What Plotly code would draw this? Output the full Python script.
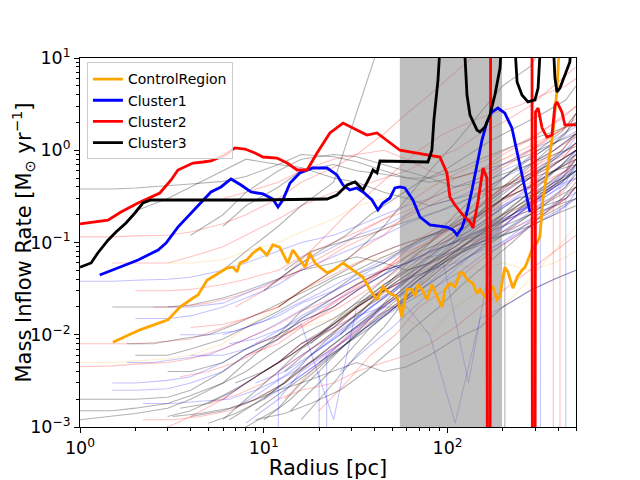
import numpy as np
import plotly.graph_objects as go

N = None

# bold profiles
control_r = [1.51, 2.12, 3.01, 3.50, 4.12, 4.39, 4.91, 5.78, 6.31, 6.80, 7.15, 7.42, 8.10, 8.74, 9.53,
             10.4, 11.2, 12.2, 12.7, 13.5, 14.4, 15.7, 16.8, 17.8, 19.0, 20.2, 22.1, 23.8, 27.0, 29.4,
             32.1, 34.7, 37.8, 41.3, 44.5, 48.6, 53.0, 56.5, 57.2, 60.1, 64.0, 66.5, 69.0, 72.6, 77.3,
             82.3, 87.6, 93.3, 96.8, 103, 109.7, 116.8, 121, 129.1, 137.5, 144.5, 150, 159.7, 170, 176.6,
             185.7, 193, 197.7, 205, 213, 227, 239, 254, 264, 274, 288, 306.6, 318, 330, 352,
             374.5, 394, 414]
control_rate = [0.0083, 0.0113, 0.0145, 0.020, 0.025, 0.027, 0.039, 0.047, 0.053, 0.054, 0.048, 0.060, 0.065, 0.077, 0.087,
                0.073, 0.094, 0.089, 0.077, 0.060, 0.083, 0.065, 0.054, 0.077, 0.060, 0.054, 0.047, 0.050, 0.060, 0.053,
                0.047, 0.042, 0.031, 0.024, 0.033, 0.028, 0.026, 0.0156, 0.0185, 0.031, 0.031, 0.026, 0.035, 0.031, 0.024,
                0.035, 0.026, 0.020, 0.031, 0.036, 0.033, 0.047, 0.047, 0.039, 0.036, 0.028, 0.031, 0.026, 0.031, 0.033,
                0.024, 0.026, 0.036, 0.054, 0.048, 0.032, 0.042, 0.050, 0.054, 0.065, 0.083, 0.099, 0.115, 0.289, 0.658,
                1.54, 4.5, 30]

cluster1_r = [1.28, 1.61, 2.07, 2.66, 2.94, 3.41, 4.02, 4.67, 5.16, 5.85, 6.63, 7.52, 8.52, 9.9, 11.2,
              11.95, 12.7, 13.9, 15.7, 18.5, 22.1, 25.0, 27.0, 29.4, 32.1, 34.7, 38.8, 41.8, 44.5, 48.6,
              51.7, 55.1, 58.6, 64.8, 70.8, 80.2, 99.2, 107, 112.5, 119.8, 127.6, 135.8, 144.5, 153.9, 163.8,
              174.4, 188, 205, 224, 241.5, 264, 281]
cluster1_rate = [0.0444, 0.053, 0.0646, 0.083, 0.0988, 0.147, 0.209, 0.289, 0.353, 0.40, 0.488, 0.42, 0.353, 0.336, 0.296,
                 0.243, 0.289, 0.442, 0.567, 0.642, 0.642, 0.54, 0.42, 0.371, 0.39, 0.353, 0.289, 0.225, 0.268, 0.304,
                 0.39, 0.40, 0.39, 0.289, 0.189, 0.155, 0.147, 0.137, 0.121, 0.144, 0.214, 0.371, 0.692, 1.29, 2.02,
                 2.60, 2.87, 2.53, 1.74, 0.888, 0.39, 0.214]

cluster2_r = [1.0, 1.42, 1.67, 2.07, 2.72, 3.13, 3.41, 4.12, 4.67, 5.16, 6.15, 6.97, 7.9, 8.96, 9.9,
              11.8, 13.4, 15.2, 17.2, 19.5, 22.9, 27.0, 32.1, 36.4, 41.3, 48.6, 55.1, 68.2, 90.9, 99.2,
              103, 109.7, 121, 132.5, 137.5, 146.3, 156, 163.8, 164.9, 170, 172, 287.7, 289.7, 299, 301,
              311, 327, 347, 370, 384, 394, 419, 435, 500]
cluster2_rate = [0.159, 0.175, 0.214, 0.268, 0.344, 0.476, 0.611, 0.727, 0.746, 0.765, 0.888, 1.06, 1.03, 0.933, 0.845,
                 0.824, 0.727, 0.611, 0.611, 0.933, 1.54, 1.97, 1.66, 1.46, 1.54, 1.2, 1.0, 0.933, 0.845, 0.567,
                 0.311, 0.255, 0.199, 0.167, 0.144, 0.275, 0.642, 0.5, 1e-5, 1e-5, 1e3, 1e3, 1e-5, 1e-5, 2.6,
                 2.87, 1.74, 1.39, 1.46, 3.09, 3.34, 2.6, 1.88, 1.88]

cluster3_r = [1.0, 1.15, 1.25, 1.42, 1.57, 1.78, 1.99, 2.2, 2.43, 9.3, 22.1, 25.0, 28.4, 31.4, 34.7,
              36.4, 37.8, 39.3, 41.3, 42.9, 78.2, 82.2, 84.3, 88.7, 93.3, 121, 127.6, 132.5, 144.5, 150,
              159.7, 170, 181, 193, 200, 227, 239, 254, 274, 299, 311, 327, 370, 384, 394,
              409, 435, 463, 481]
cluster3_rate = [0.054, 0.060, 0.077, 0.106, 0.130, 0.163, 0.209, 0.268, 0.289, 0.289, 0.296, 0.327, 0.42, 0.453, 0.371,
                 0.442, 0.513, 0.611, 0.567, 0.765, 0.746, 1.0, 2.13, 5.77, 30, 30, 3.97, 2.41, 1.66, 1.58,
                 1.79, 2.41, 3.97, 7.79, 30, 30, 5.49, 3.97, 3.34, 3.51, 4.73, 30, 30, 6.07, 4.28,
                 4.73, 6.54, 9.05, 30]

# individual (faint) profiles, on three radius grids
radius_grid = [1, 1.5, 2, 3, 4, 6, 8, 12, 16, 24, 32, 45, 60, 80, 110, 150, 200, 280, 380, 500]
radius_grid_b = [1.2, 1.8, 2.5, 3.5, 5, 7, 10, 14, 20, 28, 38, 52, 70, 95, 130, 175, 240, 330, 440, 500]
radius_grid_c = [1.3, 2.2, 3.2, 4.5, 6.5, 9, 13, 18, 26, 36, 50, 66, 90, 120, 165, 225, 310, 420, 500]

faint_black = [
    [0.38, 0.38, 0.39, 0.41, 0.43, 0.46, 0.52, 0.7, 0.9, 0.85, 0.75, 0.6, 0.5, 0.45, 0.5, 0.6, 0.7, 0.9, 1.2, 1.5],
    [N, N, N, N, N, 0.05, 0.08, 0.15, 0.25, 0.45, 2.5, 20, N, N, N, N, N, N, N, N],
    [N, N, 0.22, 0.3, 0.4, 0.6, 0.8, 0.7, 0.65, 0.5, 0.45, 0.35, 0.3, 0.25, 0.3, 0.35, 0.4, 0.5, 0.6, 0.7],
    [0.0012, 0.0013, 0.0014, 0.0016, 0.002, 0.003, 0.004, 0.007, 0.01, 0.015, 0.022, 0.03, 0.04, 0.05, 0.07, 0.1, 0.13, 0.2, 0.3, 0.4],
    [N, N, N, 0.0013, 0.0015, 0.0022, 0.003, 0.005, 0.008, 0.013, 0.02, 0.035, 0.05, 0.06, 0.09, 0.15, 0.2, 0.35, 0.6, 0.8],
    [0.002, 0.002, 0.002, 0.0021, 0.0025, 0.004, 0.006, 0.009, 0.015, 0.025, 0.035, 0.05, 0.06, 0.08, 0.1, 0.12, 0.15, 0.2, 0.25, 0.3],
    [N, N, N, N, N, 0.0012, 0.002, 0.004, 0.007, 0.012, 0.02, 0.03, 0.045, 0.07, 0.12, 0.2, 0.3, 0.5, 0.8, 1.2],
    [N, N, N, N, 0.0013, 0.0015, 0.0018, 0.0025, 0.003, 0.004, 0.005, 0.004, 0.0045, 0.006, 0.009, 0.012, 0.02, 0.03, 0.04, 0.05],
    [0.0015, 0.0015, 0.0016, 0.0018, 0.0022, 0.003, 0.005, 0.01, 0.018, 0.03, 0.045, 0.06, 0.09, 0.12, 0.16, 0.25, 0.4, 0.7, 1.0, 1.5],
    [N, N, 0.006, 0.006, 0.007, 0.009, 0.012, 0.018, 0.025, 0.04, 0.05, 0.07, 0.09, 0.12, 0.15, 0.2, 0.3, 0.4, 0.6, 0.9],
    [N, N, N, N, 0.12, 0.2, 0.35, 0.6, 0.8, 0.9, 0.85, 0.7, 0.6, 0.5, 0.4, 0.45, 0.55, 0.7, 0.9, 1.1],
    [N, N, N, N, N, N, N, 0.02, 0.03, 0.05, 0.08, 0.15, 0.3, 0.6, 1.2, 2.5, 5, 8, 20, N],
    [N, 0.02, 0.02, 0.02, 0.021, 0.025, 0.03, 0.04, 0.05, 0.06, 0.07, 0.06, 0.05, 0.06, 0.08, 0.1, 0.12, 0.15, 0.2, 0.25],
    [N, N, N, N, N, N, 0.001, 0.0016, 0.003, 0.006, 0.01, 0.018, 0.03, 0.05, 0.08, 0.13, 0.2, 0.3, 0.45, 0.6],
    [N, N, N, N, N, N, N, N, 0.0012, 0.003, 0.006, 0.012, 0.025, 0.05, 0.1, 0.18, 0.3, 0.5, 0.7, 1.0],
    [N, N, N, 0.004, 0.004, 0.005, 0.007, 0.01, 0.014, 0.02, 0.03, 0.045, 0.07, 0.1, 0.2, 0.35, 0.5, 0.8, 1.2, 2.0],
    [N, N, N, N, N, 0.15, 0.25, 0.4, 0.6, 0.7, 0.6, 0.55, 0.5, 0.5, 0.6, 0.8, 1.0, 1.3, 1.6, 2.0],
]
faint_black_b = [
    [N, N, N, N, 0.0011, 0.0014, 0.002, 0.0035, 0.006, 0.01, 0.016, 0.025, 0.04, 0.06, 0.1, 0.15, 0.25, 0.4, 0.6, 0.8],
    [N, N, N, 0.0016, 0.0018, 0.0025, 0.004, 0.006, 0.01, 0.018, 0.03, 0.05, 0.08, 0.1, 0.13, 0.2, 0.3, 0.35, 0.5, 0.7],
    [N, N, N, N, N, N, 0.0012, 0.002, 0.004, 0.008, 0.015, 0.03, 0.05, 0.08, 0.15, 0.3, 0.5, 0.9, 1.5, 2.5],
    [N, N, N, N, N, 0.003, 0.004, 0.006, 0.01, 0.016, 0.025, 0.04, 0.06, 0.09, 0.12, 0.15, 0.2, 0.25, 0.3, 0.4],
    [N, N, N, N, N, N, N, 0.0015, 0.003, 0.006, 0.012, 0.02, 0.035, 0.06, 0.09, 0.14, 0.22, 0.35, 0.5, 0.6],
    [N, 0.008, 0.008, 0.009, 0.01, 0.013, 0.018, 0.025, 0.035, 0.05, 0.07, 0.09, 0.11, 0.13, 0.18, 0.25, 0.35, 0.5, 0.7, 0.9],
    [N, N, N, N, N, N, N, N, 0.005, 0.008, 0.012, 0.02, 0.03, 0.045, 0.07, 0.1, 0.16, 0.25, 0.4, 0.55],
    [N, N, N, N, N, N, 0.03, 0.05, 0.08, 0.12, 0.2, 0.3, 0.45, 0.6, 0.9, 1.3, 1.8, 2.5, 3.5, 5],
]
faint_black_c = [
    [N, N, N, N, N, 0.0015, 0.0025, 0.004, 0.007, 0.012, 0.02, 0.03, 0.05, 0.08, 0.12, 0.2, 0.35, 0.5, 0.7],
    [N, N, N, N, 0.0012, 0.0018, 0.003, 0.005, 0.009, 0.015, 0.025, 0.04, 0.06, 0.09, 0.14, 0.22, 0.3, 0.45, 0.6],
    [N, N, N, N, N, N, 0.004, 0.007, 0.012, 0.02, 0.035, 0.05, 0.07, 0.1, 0.15, 0.25, 0.4, 0.7, 1.0],
    [N, N, N, N, N, N, N, 0.008, 0.015, 0.025, 0.04, 0.06, 0.1, 0.15, 0.25, 0.4, 0.6, 1.0, 1.5],
    [N, N, 0.0013, 0.0014, 0.0016, 0.002, 0.003, 0.006, 0.012, 0.02, 0.03, 0.045, 0.06, 0.08, 0.1, 0.13, 0.18, 0.25, 0.3],
    [N, N, N, N, N, N, 0.05, 0.08, 0.1, 0.12, 0.15, 0.18, 0.22, 0.28, 0.35, 0.45, 0.6, 0.8, 1.0],
    [N, N, N, N, N, N, N, N, 0.01, 0.02, 0.04, 0.07, 0.12, 0.2, 0.35, 0.6, 1.0, 1.6, 2.5],
    [N, N, N, N, N, 0.0012, 0.0014, 0.0018, 0.0025, 0.004, 0.007, 0.012, 0.02, 0.035, 0.06, 0.1, 0.18, 0.3, 0.45],
]

faint_red = [
    [0.115, 0.115, 0.118, 0.12, 0.13, 0.16, 0.2, 0.3, 0.45, 0.65, 0.9, 1.5, 2.5, 4, 7, 12, N, N, N, N],
    [0.008, 0.008, 0.008, 0.0085, 0.009, 0.012, 0.015, 0.02, 0.03, 0.045, 0.06, 0.08, 0.1, 0.12, 0.15, 0.2, 0.3, 0.5, 0.7, 1.0],
    [0.0045, 0.0046, 0.0048, 0.005, 0.0055, 0.007, 0.009, 0.013, 0.018, 0.025, 0.035, 0.05, 0.07, 0.1, 0.15, 0.2, 0.3, 0.4, 0.6, 0.8],
    [N, N, 0.03, 0.03, 0.031, 0.035, 0.04, 0.05, 0.07, 0.1, 0.13, 0.18, 0.22, 0.3, 0.4, 0.5, 0.7, 1.0, 1.5, 2.0],
    [N, N, N, N, N, N, N, 0.002, 0.0025, 0.003, 0.004, 0.005, 0.006, 0.008, 0.012, 0.02, 0.03, 0.05, 0.08, 0.12],
    [N, 0.06, 0.06, 0.06, 0.07, 0.09, 0.12, 0.18, 0.25, 0.35, 0.4, 0.5, 0.6, 0.8, 1.0, 1.5, 2, 3, 5, 8],
    [N, N, N, 0.001, 0.0013, 0.002, 0.003, 0.005, 0.008, 0.012, 0.02, 0.03, 0.04, 0.06, 0.09, 0.14, 0.2, 0.3, 0.5, 0.7],
    [N, N, N, N, 0.012, 0.013, 0.015, 0.02, 0.03, 0.05, 0.08, 0.12, 0.2, 0.3, 0.5, 0.6, 0.9, 1.3, 2, 3],
    [N, N, N, N, N, N, 0.006, 0.008, 0.012, 0.02, 0.03, 0.05, 0.08, 0.1, 0.15, 0.25, 0.4, 0.6, 1.0, 1.4],
    [N, N, N, N, N, 0.3, 0.35, 0.45, 0.6, 0.8, 0.9, 1.0, 0.8, 0.6, 0.5, 0.6, 0.8, 1.1, 1.5, 2.2],
]
faint_red_b = [
    [N, N, N, N, 0.0018, 0.0022, 0.003, 0.005, 0.008, 0.014, 0.022, 0.035, 0.05, 0.07, 0.1, 0.12, 0.15, 0.2, 0.3, 0.4],
    [N, N, N, N, N, N, 0.004, 0.006, 0.01, 0.016, 0.025, 0.04, 0.06, 0.1, 0.15, 0.22, 0.35, 0.45, 0.6, 0.9],
    [N, N, 0.02, 0.02, 0.022, 0.026, 0.033, 0.045, 0.06, 0.09, 0.12, 0.16, 0.22, 0.3, 0.4, 0.55, 0.8, 1.2, 1.8, 2.5],
    [N, N, N, N, N, N, N, N, 0.0015, 0.003, 0.006, 0.01, 0.02, 0.03, 0.05, 0.08, 0.12, 0.2, 0.3, 0.4],
    [N, N, N, N, N, 0.02, 0.03, 0.05, 0.1, 0.2, 0.35, 0.6, 1.0, 1.5, 2, 2.5, 3, 4, 5, 6],
    [N, N, N, 0.0035, 0.004, 0.005, 0.007, 0.011, 0.017, 0.027, 0.04, 0.06, 0.09, 0.13, 0.2, 0.3, 0.45, 0.7, 0.9, 1.2],
]
faint_red_c = [
    [N, N, N, N, N, N, 0.002, 0.004, 0.008, 0.014, 0.025, 0.04, 0.06, 0.09, 0.14, 0.2, 0.3, 0.5, 0.8],
    [N, N, N, N, N, 0.008, 0.01, 0.014, 0.02, 0.03, 0.045, 0.07, 0.1, 0.15, 0.22, 0.35, 0.5, 0.8, 1.2],
    [N, N, N, N, N, N, N, 0.015, 0.025, 0.04, 0.06, 0.1, 0.15, 0.2, 0.3, 0.45, 0.7, 1.0, 1.6],
    [N, 0.0012, 0.0012, 0.0013, 0.0015, 0.002, 0.003, 0.005, 0.008, 0.013, 0.02, 0.03, 0.05, 0.08, 0.12, 0.18, 0.25, 0.35, 0.5],
    [N, N, N, N, N, N, 0.04, 0.06, 0.09, 0.14, 0.2, 0.3, 0.45, 0.6, 0.8, 1.1, 1.5, 2.2, 3],
]

faint_blue = [
    [0.038, 0.038, 0.039, 0.04, 0.042, 0.05, 0.06, 0.08, 0.1, 0.12, 0.15, 0.2, 0.25, 0.3, 0.4, 0.5, 0.7, 1.0, 1.3, 1.8],
    [N, 0.003, 0.003, 0.0032, 0.0035, 0.005, 0.007, 0.011, 0.016, 0.025, 0.035, 0.05, 0.06, 0.08, 0.1, 0.13, 0.18, 0.25, 0.4, 0.5],
    [N, N, 0.015, 0.015, 0.016, 0.02, 0.025, 0.035, 0.05, 0.07, 0.09, 0.12, 0.16, 0.2, 0.25, 0.35, 0.5, 0.7, 1.0, 1.5],
    [N, N, N, N, N, 0.002, 0.003, 0.005, 0.008, 0.012, 0.016, 0.02, 0.02, 0.01, 0.0011, 0.015, 0.02, 0.03, 0.04, 0.05],
    [N, N, N, N, 0.006, 0.006, 0.007, 0.01, 0.014, 0.02, 0.03, 0.045, 0.06, 0.08, 0.12, 0.2, 0.3, 0.5, 0.8, 1.2],
    [N, N, N, N, N, N, 0.0011, 0.002, 0.004, 0.007, 0.012, 0.02, 0.03, 0.05, 0.07, 0.1, 0.15, 0.25, 0.4, 0.6],
    [N, 0.0025, 0.0025, 0.0026, 0.003, 0.004, 0.006, 0.009, 0.013, 0.0012, 0.02, 0.03, 0.04, 0.05, 0.06, 0.08, 0.1, 0.15, 0.2, 0.3],
    [N, N, N, 0.02, 0.02, 0.022, 0.028, 0.04, 0.06, 0.09, 0.12, 0.15, 0.2, 0.25, 0.3, 0.4, 0.6, 0.8, 1.2, 1.6],
    [N, N, N, N, N, 0.01, 0.012, 0.016, 0.022, 0.03, 0.04, 0.05, 0.06, 0.07, 0.08, 0.1, 0.12, 0.18, 0.25, 0.35],
    [N, N, N, N, N, N, N, 0.004, 0.006, 0.01, 0.015, 0.025, 0.04, 0.06, 0.1, 0.15, 0.25, 0.4, 0.7, 1.0],
]
faint_blue_b = [
    [N, N, N, N, N, 0.0016, 0.0025, 0.004, 0.007, 0.012, 0.02, 0.03, 0.05, 0.07, 0.1, 0.15, 0.2, 0.3, 0.45, 0.7],
    [N, N, N, 0.01, 0.01, 0.011, 0.014, 0.02, 0.028, 0.04, 0.055, 0.075, 0.1, 0.13, 0.17, 0.22, 0.3, 0.4, 0.55, 0.7],
    [N, N, N, N, N, N, N, 0.003, 0.005, 0.008, 0.013, 0.02, 0.03, 0.045, 0.07, 0.11, 0.17, 0.27, 0.4, 0.6],
    [N, 0.005, 0.005, 0.0055, 0.006, 0.008, 0.011, 0.016, 0.024, 0.035, 0.05, 0.07, 0.1, 0.14, 0.2, 0.3, 0.45, 0.7, 1.0, 1.4],
    [N, N, N, N, N, N, 0.002, 0.003, 0.005, 0.009, 0.015, 0.025, 0.04, 0.06, 0.003, 0.08, 0.12, 0.18, 0.25, 0.35],
    [N, N, N, N, N, N, N, N, N, 0.01, 0.015, 0.02, 0.03, 0.05, 0.08, 0.12, 0.2, 0.35, 0.6, 1.0],
]
faint_blue_c = [
    [N, N, N, N, N, 0.003, 0.004, 0.006, 0.01, 0.016, 0.025, 0.04, 0.06, 0.09, 0.13, 0.2, 0.3, 0.45, 0.65],
    [N, N, N, N, N, N, N, 0.006, 0.01, 0.018, 0.03, 0.05, 0.08, 0.12, 0.18, 0.28, 0.45, 0.7, 1.0],
    [N, 0.0018, 0.0018, 0.0019, 0.002, 0.0025, 0.0035, 0.005, 0.008, 0.012, 0.018, 0.025, 0.035, 0.05, 0.08, 0.12, 0.2, 0.3, 0.4],
    [N, N, N, N, 0.008, 0.009, 0.012, 0.017, 0.025, 0.035, 0.05, 0.065, 0.085, 0.11, 0.15, 0.2, 0.28, 0.4, 0.5],
    [N, N, N, N, N, N, N, N, 0.004, 0.007, 0.012, 0.02, 0.035, 0.06, 0.1, 0.18, 0.3, 0.5, 0.8],
]

faint_orange = [
    [0.005, 0.005, 0.0052, 0.0055, 0.006, 0.008, 0.012, 0.02, 0.03, 0.05, 0.06, 0.07, 0.08, 0.07, 0.06, 0.05, 0.06, 0.05, 0.06, 0.08],
    [N, N, N, 0.06, 0.06, 0.065, 0.08, 0.1, 0.13, 0.18, 0.25, 0.3, 0.35, 0.4, 0.5, 0.6, 0.8, 1, 1.5, 2],
    [N, N, N, N, N, N, N, 0.01, 0.012, 0.015, 0.02, 0.025, 0.015, 0.01, 0.02, 0.03, 0.02, 0.04, 0.08, 0.15],
]

# single-radius drop-outs of faint profiles (value falls below the axis)
dropout_r = [12, 20, 22, 205, 320, 376, 409, 440]
dropout_from = [0.004, 0.004, 0.006, 0.1, 0.3, 0.3, 0.4, 0.3]
dropout_color = ["blue", "blue", "blue", "black", "blue", "red", "red", "blue"]

# shaded radial range
band_lo, band_hi = 55, 198

font = "DejaVu Sans"
faint_rgba = {"black": "rgba(0,0,0,0.3)", "red": "rgba(255,0,0,0.24)",
              "blue": "rgba(0,0,255,0.24)", "orange": "rgba(255,165,0,0.2)"}
fig = go.Figure()

def addFaint(grid, rows, color):
    for row in rows:
        fig.add_trace(go.Scatter(x=grid, y=row, mode="lines", line=dict(color=faint_rgba[color], width=1.1),
                                 showlegend=False, hoverinfo="skip"))

addFaint(radius_grid, faint_orange, "orange")
addFaint(radius_grid, faint_blue, "blue")
addFaint(radius_grid_b, faint_blue_b, "blue")
addFaint(radius_grid_c, faint_blue_c, "blue")
addFaint(radius_grid, faint_red, "red")
addFaint(radius_grid_b, faint_red_b, "red")
addFaint(radius_grid_c, faint_red_c, "red")
addFaint(radius_grid, faint_black, "black")
addFaint(radius_grid_b, faint_black_b, "black")
addFaint(radius_grid_c, faint_black_c, "black")

for r, top, c in zip(dropout_r, dropout_from, dropout_color):
    fig.add_trace(go.Scatter(x=[r, r], y=[top, 1e-5], mode="lines",
                             line=dict(color=faint_rgba[c], width=1.1), showlegend=False, hoverinfo="skip"))

fig.add_trace(go.Scatter(x=[band_lo, band_hi, band_hi, band_lo, band_lo], y=[1e-5, 1e-5, 1e3, 1e3, 1e-5],
                         mode="lines", fill="toself", fillcolor="rgba(128,128,128,0.5)", line=dict(width=0),
                         showlegend=False, hoverinfo="skip"))

for name, r, rate, color in [("ControlRegion", control_r, control_rate, "orange"),
                             ("Cluster1", cluster1_r, cluster1_rate, "blue"),
                             ("Cluster2", cluster2_r, cluster2_rate, "red"),
                             ("Cluster3", cluster3_r, cluster3_rate, "black")]:
    fig.add_trace(go.Scatter(x=r, y=rate, mode="lines", name=name, line=dict(color=color, width=2.8)))

x_minor = [m * d for d in [1, 10, 100] for m in range(2, 10) if m * d <= 500]
y_minor = [m * d for d in [0.001, 0.01, 0.1, 1] for m in range(2, 10)]

axis_common = dict(type="log", showgrid=False, zeroline=False, showline=True, mirror=True,
                   linecolor="black", linewidth=1, ticks="outside", ticklen=5, tickwidth=1,
                   tickcolor="black", tickfont=dict(family=font, size=17.5, color="black"),
                   automargin=False)

# the page body adds an 8px offset, so the figure is 8px smaller than the window
fig.update_layout(
    width=632, height=472,
    margin=dict(l=72, r=64, t=50, b=53),
    plot_bgcolor="white", paper_bgcolor="white",
    font=dict(family=font, color="black"),
    xaxis=dict(axis_common, range=[0, np.log10(500)], tickmode="array", tickvals=[1, 10, 100],
               ticktext=["10<sup>0</sup>", "10<sup>1</sup>", "10<sup>2</sup>"],
               minor=dict(tickmode="array", tickvals=x_minor, ticks="outside", ticklen=3, tickcolor="black"),
               title=dict(text="Radius [pc]", font=dict(family=font, size=21), standoff=4)),
    yaxis=dict(axis_common, range=[-3, 1], tickmode="array", tickvals=[0.001, 0.01, 0.1, 1, 10],
               ticktext=["10<sup>\u22123</sup>", "10<sup>\u22122</sup>", "10<sup>\u22121</sup>",
                         "10<sup>0</sup>", "10<sup>1</sup>"],
               minor=dict(tickmode="array", tickvals=y_minor, ticks="outside", ticklen=3, tickcolor="black"),
               title=dict(text="Mass Inflow Rate [M<sub>\u2299</sub> yr<sup>\u22121</sup>]",
                          font=dict(family=font, size=21), standoff=6)),
    legend=dict(x=0.014, y=0.988, xanchor="left", yanchor="top", bgcolor="rgba(255,255,255,0.8)",
                bordercolor="#cccccc", borderwidth=1, font=dict(family=font, size=14)),
)

fig.write_html("out.html")
